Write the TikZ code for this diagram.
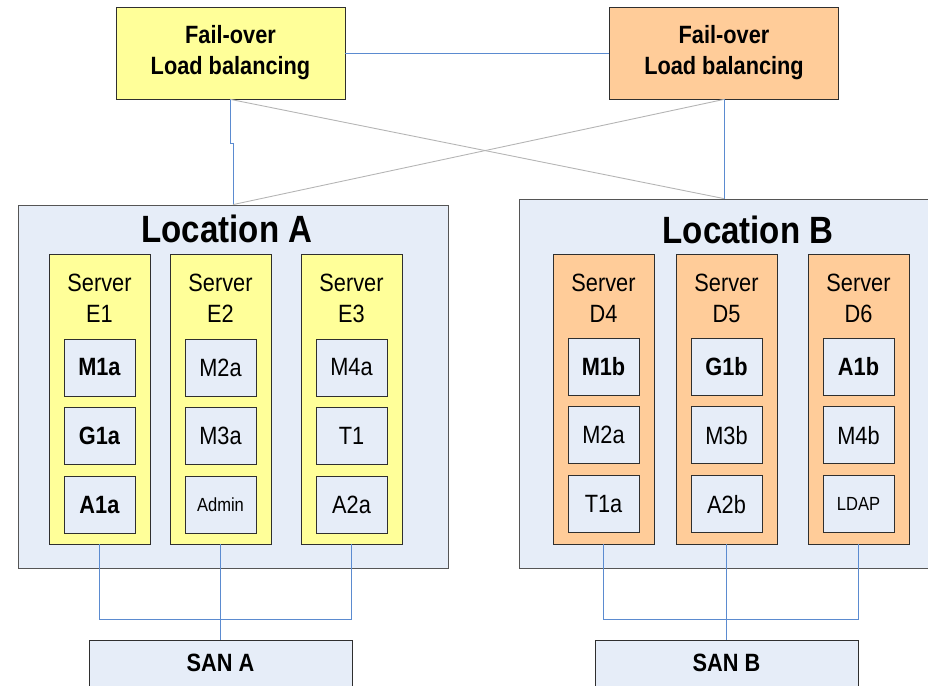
\documentclass[tikz,border=0pt]{standalone}
\usepackage{fontspec}
\setmainfont{Liberation Sans}[FakeStretch=0.87]
\usetikzlibrary{positioning}
\definecolor{siteyellow}{HTML}{FFFF99}
\definecolor{siteorange}{HTML}{FFCC99}
\definecolor{sitegrey}{HTML}{E6EDF8}
\definecolor{wireblue}{HTML}{5B8BD0}
\definecolor{crossgrey}{HTML}{B5B5B5}
\definecolor{edgedark}{HTML}{2F2F2F}
\definecolor{edgeloc}{HTML}{555555}

\begin{document}
\begin{tikzpicture}[x=1pt, y=-1pt, node distance=11pt,
    box/.style={rectangle, draw=edgedark, line width=0.8pt, inner sep=0pt},
    balancer/.style={box, minimum width=229pt, minimum height=92pt, align=center,
                     font=\fontsize{25}{31}\selectfont\bfseries},
    location/.style={box, draw=edgeloc, fill=sitegrey},
    loctitle/.style={anchor=north, font=\fontsize{38}{44}\selectfont\bfseries},
    server/.style={box, minimum width=101pt, minimum height=290pt},
    srvname/.style={anchor=north, yshift=-17pt, align=center,
                    font=\fontsize{25}{31}\selectfont},
    app/.style={box, fill=sitegrey, minimum width=71pt, minimum height=57pt,
                font=\fontsize{25}{30}\selectfont},
    small/.style={font=\fontsize{19}{23}\selectfont},
    san/.style={box, fill=sitegrey, minimum width=263pt, minimum height=46pt,
                font=\fontsize{25}{30}\selectfont\bfseries},
    link/.style={draw=wireblue, line width=0.9pt},
    cross/.style={draw=crossgrey, line width=0.9pt}]

\useasboundingbox (0,0) rectangle (928,685);

% balancers
\node[balancer, fill=siteyellow] (lbA) at (230.5,53) {Fail-over\\Load balancing};
\node[balancer, fill=siteorange] (lbB) at (724,53) {Fail-over\\Load balancing};

% locations
\node[location, minimum width=430pt, minimum height=363pt,
      label={[loctitle, xshift=-6pt, yshift=-7pt]north:Location A}] (locA) at (233,386.5) {};
\node[location, minimum width=410pt, minimum height=369pt,
      label={[loctitle, xshift=24pt, yshift=-14pt]north:Location B}] (locB) at (724,383.5) {};

% servers location A
\node[server, fill=siteyellow, label={[srvname]north:{Server\\E1}}] (E1) at (99.5,399) {};
\node[server, fill=siteyellow, label={[srvname]north:{Server\\E2}}] (E2) at (220.5,399) {};
\node[server, fill=siteyellow, label={[srvname]north:{Server\\E3}}] (E3) at (351.5,399) {};

% servers location B
\node[server, fill=siteorange, label={[srvname]north:{Server\\D4}}] (D4) at (603.5,399) {};
\node[server, fill=siteorange, label={[srvname]north:{Server\\D5}}] (D5) at (726.5,399) {};
\node[server, fill=siteorange, label={[srvname]north:{Server\\D6}}] (D6) at (858.5,399) {};

% applications
\node[app] (M1a) [below=85pt of E1.north] {\textbf{M1a}};
\node[app] (G1a) [below=of M1a] {\textbf{G1a}};
\node[app] (A1a) [below=of G1a] {\textbf{A1a}};
\node[app] (M2a) [below=85pt of E2.north] {M2a};
\node[app] (M3a) [below=of M2a] {M3a};
\node[app, small] (Adm) [below=of M3a] {Admin};
\node[app] (M4a) [below=85pt of E3.north] {M4a};
\node[app] (T1) [below=of M4a] {T1};
\node[app] (A2a) [below=of T1] {A2a};

\node[app] (M1b) [below=84pt of D4.north] {\textbf{M1b}};
\node[app] (M2aB) [below=of M1b] {M2a};
\node[app] (T1a) [below=of M2aB] {T1a};
\node[app] (G1b) [below=84pt of D5.north] {\textbf{G1b}};
\node[app] (M3b) [below=of G1b] {M3b};
\node[app] (A2b) [below=of M3b] {A2b};
\node[app] (A1b) [below=84pt of D6.north] {\textbf{A1b}};
\node[app] (M4b) [below=of A1b] {M4b};
\node[app, small] (LDAP) [below=of M4b] {LDAP};

% storage
\node[san] (sanA) at (220.5,663) {SAN A};
\node[san] (sanB) at (726.5,663) {SAN B};

% connections
\path[link] (lbA.east) edge (lbB.west);
\draw[link] (lbA.south) -- ++(0,44) -| (locA.north);
\draw[link] (lbB.south) -- (locB.north);
\draw[cross] (lbA.south) -- (locB.north);
\draw[cross] (lbB.south) -- (locA.north);

\draw[link] (E1.south) -- ++(0,75) -| (E3.south);
\draw[link] (E2.south) -- (sanA.north);
\draw[link] (D4.south) -- ++(0,75) -| (D6.south);
\draw[link] (D5.south) -- (sanB.north);
\end{tikzpicture}
\end{document}
